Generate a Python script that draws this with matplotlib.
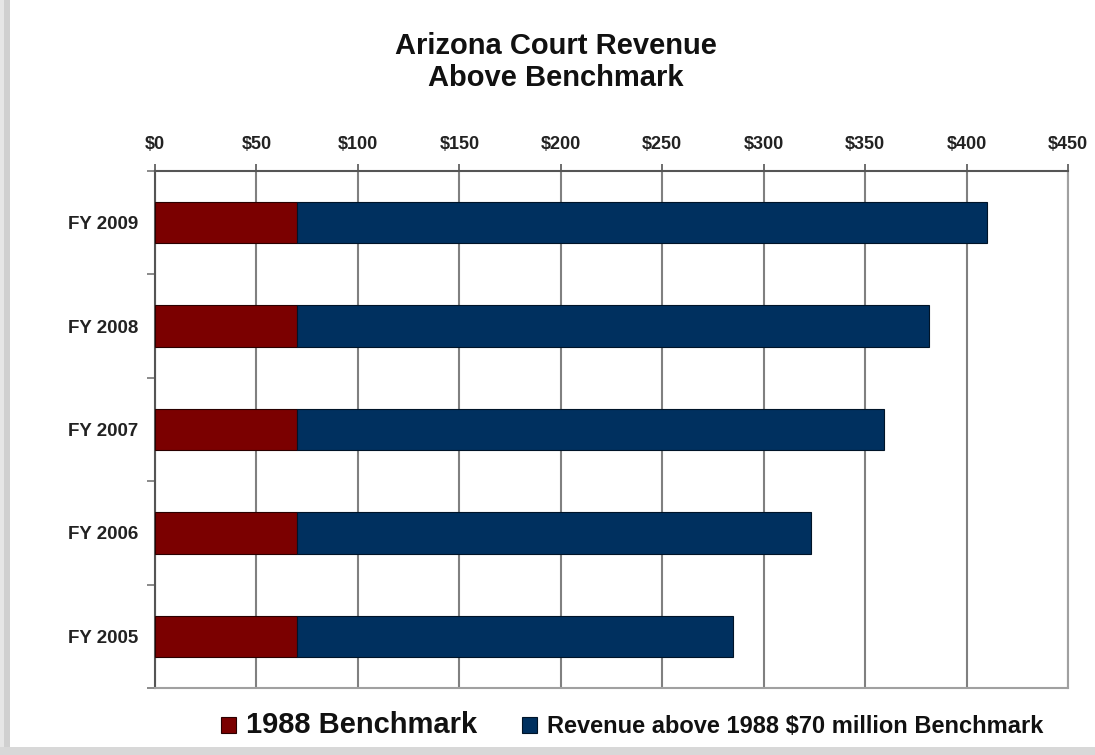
import matplotlib
matplotlib.use("Agg")
import matplotlib.pyplot as plt
from matplotlib.patches import Rectangle
import numpy as np

plt.rcParams['font.family'] = ['Liberation Sans', 'DejaVu Sans']

categories = ["FY 2005", "FY 2006", "FY 2007", "FY 2008", "FY 2009"]
benchmark = [70, 70, 70, 70, 70]
above = [215, 253.5, 289.3, 311.5, 340]
xticks = [0, 50, 100, 150, 200, 250, 300, 350, 400, 450]
xticklabels = ["$0", "$50", "$100", "$150", "$200", "$250", "$300", "$350", "$400", "$450"]

W, H = 1095, 755
fig = plt.figure(figsize=(W / 100, H / 100), dpi=100)
fig.patch.set_facecolor("white")

# frame shadow
fig.patches.append(Rectangle((0, 8 / H), 4 / W, 1 - 8 / H, transform=fig.transFigure,
                             facecolor="#e6e6e6", edgecolor="none", zorder=0))
fig.patches.append(Rectangle((4 / W, 8 / H), 6 / W, 1 - 8 / H, transform=fig.transFigure,
                             facecolor="#d0d0d0", edgecolor="none", zorder=0))
fig.patches.append(Rectangle((0, 0), 1, 8 / H, transform=fig.transFigure,
                             facecolor="#d8d8d8", edgecolor="none", zorder=0))

ax = fig.add_axes([155 / W, 1 - 688 / H, (1068 - 155) / W, (688 - 171) / H])

y = np.arange(len(categories))
c_red = "#7b0000"
c_blue = "#00305f"
ax.barh(y, benchmark, height=0.4, color=c_red, edgecolor="#2a0000", linewidth=0.8,
        label="1988 Benchmark", zorder=3)
ax.barh(y, above, left=benchmark, height=0.4, color=c_blue, edgecolor="#001428",
        linewidth=0.8, label="Revenue above 1988 $70 million Benchmark", zorder=3)

ax.set_xlim(0, 450)
ax.set_ylim(-0.5, len(categories) - 0.5)
ax.xaxis.tick_top()
ax.set_xticks(xticks)
ax.set_xticklabels(xticklabels, fontsize=13, fontweight="bold", color="#222222")
ax.tick_params(axis="x", direction="out", length=5, width=1.2, color="#555555", pad=8)
ax.set_yticks(y)
ax.set_yticklabels(categories, fontsize=13.5, fontweight="bold", color="#222222")
ax.tick_params(axis="y", which="major", length=0, pad=12)
ax.set_yticks(np.arange(-0.5, len(categories), 1.0), minor=True)
ax.tick_params(axis="y", which="minor", length=6, width=1.2, color="#777777", direction="out")

ax.grid(axis="x", color="#808080", linewidth=1.5, zorder=1)
ax.set_axisbelow(True)
for s in ["top", "left"]:
    ax.spines[s].set_color("#555555")
    ax.spines[s].set_linewidth(1.5)
for s in ["bottom", "right"]:
    ax.spines[s].set_color("#a0a0a0")
    ax.spines[s].set_linewidth(1.5)

fig.text(556 / W, 1 - 46 / H, "Arizona Court Revenue", ha="center", va="center",
         fontsize=21, fontweight="bold", color="#111111")
fig.text(556 / W, 1 - 78 / H, "Above Benchmark", ha="center", va="center",
         fontsize=21, fontweight="bold", color="#111111")

leg = fig.legend(loc="center", bbox_to_anchor=(632 / W, 1 - 725 / H), ncol=2,
                 frameon=False, prop={"size": 17, "weight": "bold"},
                 handlelength=0.65, handleheight=0.65,
                 handletextpad=0.4, columnspacing=1.9, borderpad=0, borderaxespad=0)
texts = leg.get_texts()
texts[0].set_fontsize(21)
texts[1].set_fontsize(17)
for t in texts:
    t.set_color("#111111")

fig.savefig("out.png", dpi=100, facecolor=fig.get_facecolor())
